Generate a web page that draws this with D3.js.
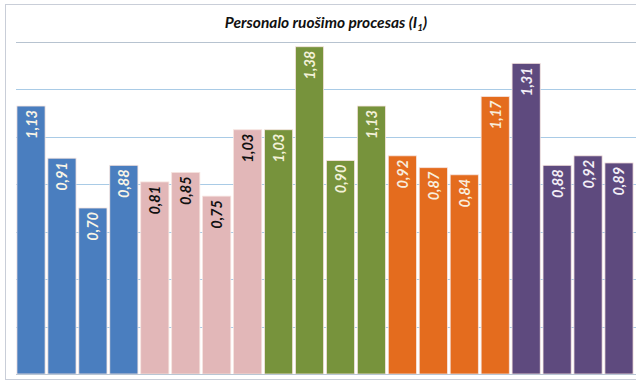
<!DOCTYPE html>
<html>
<head>
<meta charset="utf-8">
<script src="https://cdn.jsdelivr.net/npm/d3@7"></script>
<style>
  html, body { margin: 0; padding: 0; background: #ffffff; }
  svg { display: block; }
</style>
</head>
<body>
<svg id="chart" width="636" height="383"></svg>
<script>
// Five groups of four indicators each
const groups = ["G1", "G2", "G3", "G4", "G5"];
const groupColors = ["#4a7ebf", "#e2b7b8", "#77933c", "#e46c1e", "#5e4a7e"];
const labelColors = ["#f8f4e6", "#111111", "#f3f1d8", "#f8ecdc", "#f2eef6"];
const items = ["1", "2", "3", "4"];
const values = [
  1.13, 0.91, 0.70, 0.88,
  0.81, 0.85, 0.75, 1.03,
  1.03, 1.38, 0.90, 1.13,
  0.92, 0.87, 0.84, 1.17,
  1.31, 0.88, 0.92, 0.89
];
const yTicks = [0, 0.2, 0.4, 0.6, 0.8, 1.0, 1.2, 1.4];
const title = "Personalo ruošimo procesas (I";
const titleSub = "1";

const W = 636, H = 383;
const plot = { left: 16, right: 634, top: 42, bottom: 374 };

const data = values.map((v, i) => ({
  key: groups[Math.floor(i / items.length)] + "-" + items[i % items.length],
  g: Math.floor(i / items.length),
  v
}));

const svg = d3.select("#chart");

// chart frame
svg.append("rect")
  .attr("x", 5.5).attr("y", 4.5)
  .attr("width", W).attr("height", H - 8)
  .attr("fill", "#ffffff")
  .attr("stroke", "#c9ced8").attr("stroke-width", 1);

const x = d3.scaleBand()
  .domain(data.map(d => d.key))
  .range([plot.left, plot.right])
  .paddingInner(0.09)
  .paddingOuter(0.03);

const y = d3.scaleLinear()
  .domain([0, 1.4])
  .range([plot.bottom, plot.top]);

// horizontal gridlines
svg.append("g")
  .selectAll("line")
  .data(yTicks.slice(1))
  .join("line")
  .attr("x1", plot.left).attr("x2", W)
  .attr("y1", d => Math.round(y(d)) + 0.5)
  .attr("y2", d => Math.round(y(d)) + 0.5)
  .attr("stroke", d => d === 1.4 ? "#b7c3d0" : "#a9cbe6")
  .attr("stroke-width", 1.2);

// bars
svg.append("g")
  .selectAll("rect")
  .data(data)
  .join("rect")
  .attr("x", d => x(d.key))
  .attr("y", d => y(d.v))
  .attr("width", x.bandwidth())
  .attr("height", d => y(0) - y(d.v))
  .attr("fill", d => groupColors[d.g])
  .attr("stroke", "#f6e4df")
  .attr("stroke-width", 0.8);

// baseline
svg.append("line")
  .attr("x1", plot.left).attr("x2", W)
  .attr("y1", plot.bottom + 0.5).attr("y2", plot.bottom + 0.5)
  .attr("stroke", "#b9c6d4").attr("stroke-width", 1);

// value labels, rotated, inside the top of each bar
const fmt = v => d3.format(".2f")(v).replace(".", ",");
svg.append("g")
  .selectAll("text")
  .data(data)
  .join("text")
  .attr("transform", d => `translate(${x(d.key) + x.bandwidth() / 2},${y(d.v) + 4}) rotate(-90)`)
  .attr("text-anchor", "end")
  .attr("dominant-baseline", "central")
  .attr("font-family", "Lato, 'Open Sans', sans-serif")
  .attr("font-weight", "bold")
  .attr("font-style", "italic")
  .attr("font-size", 14.5)
  .attr("fill", d => labelColors[d.g])
  .text(d => fmt(d.v));

// title
const t = svg.append("text")
  .attr("x", 326).attr("y", 28)
  .attr("text-anchor", "middle")
  .attr("font-family", "Lato, 'Open Sans', sans-serif")
  .attr("font-weight", "bold")
  .attr("font-style", "italic")
  .attr("font-size", 15.5)
  .attr("fill", "#111111");
t.append("tspan").text(title);
t.append("tspan").attr("font-size", 10).attr("dy", 3).text(titleSub);
t.append("tspan").attr("dy", -3).text(")");
</script>
</body>
</html>
